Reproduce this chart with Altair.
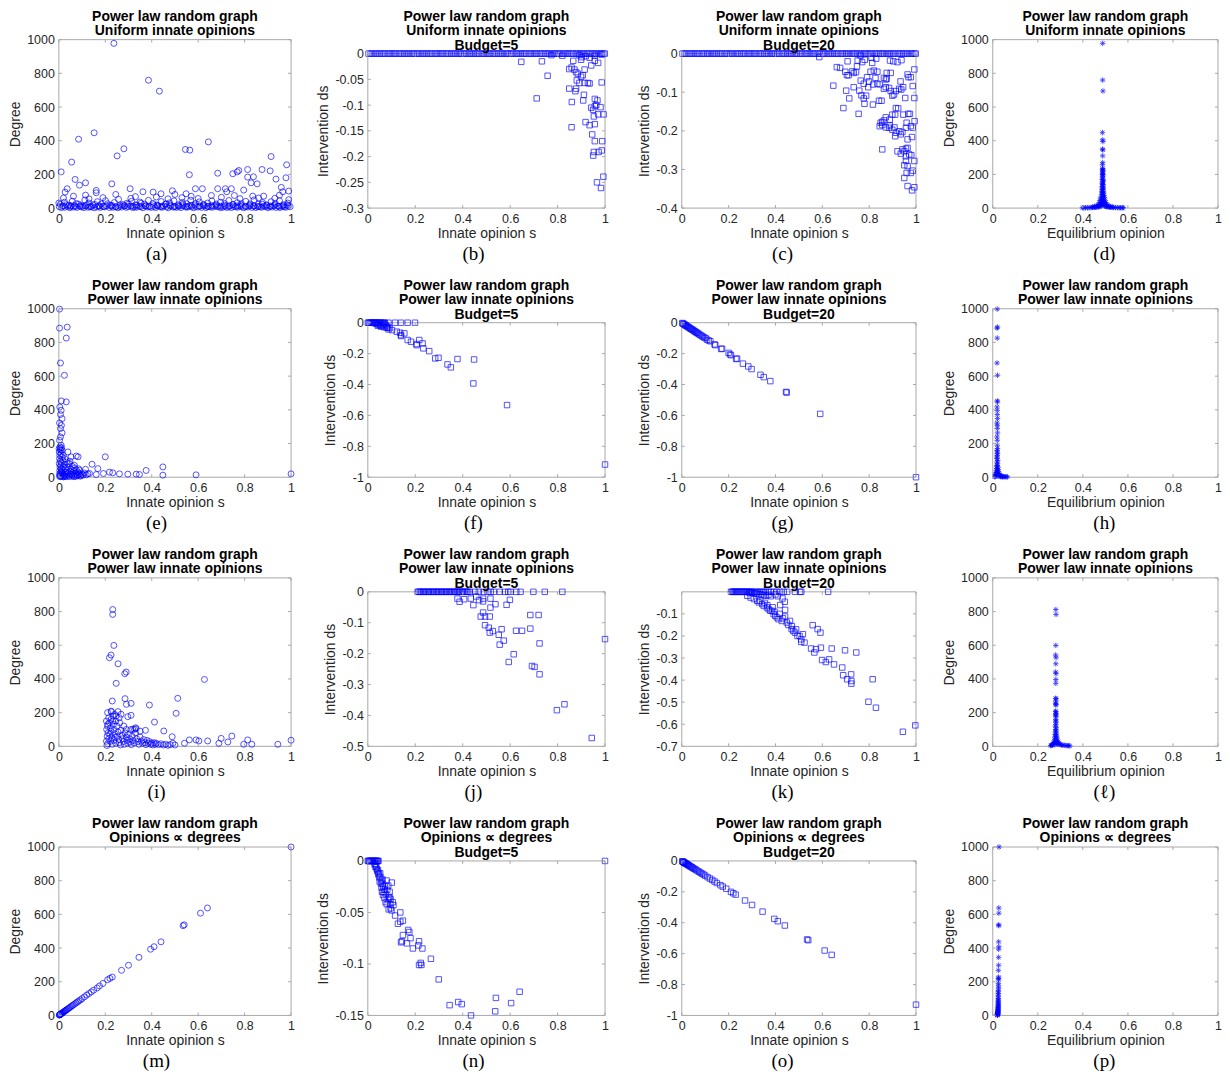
import altair as alt
import pandas as pd

# ---------------- data ----------------
X_TICKS = [0, 0.2, 0.4, 0.6, 0.8, 1]
DEG_TICKS = [0, 200, 400, 600, 800, 1000]

# (a) uniform innate opinions: innate opinion vs degree
A_OUT = [(0.237,978),(0.386,759),(0.433,694),(0.152,447),(0.085,409),(0.644,393),(0.28,352),(0.545,348),
         (0.564,344),(0.251,310),(0.914,306),(0.055,273),(0.981,257),(0.01,215),(0.684,207),(0.91,221),
         (0.875,229),(0.813,229),(0.768,215),(0.775,223),(0.749,204),(0.562,198),(0.07,170),(0.115,150),
         (0.089,136),(0.228,144),(0.307,115),(0.813,184),(0.838,186),(0.828,150),(0.854,144),(0.935,172),
         (0.978,180),(0.036,115),(0.027,95),(0.588,115),(0.618,115),(0.717,115),(0.743,115),(0.489,103),
         (0.362,97),(0.406,95),(0.161,105),(0.161,91),(0.684,115),(0.723,97),(0.796,107),(0.958,123),
         (0.964,97),(0.99,101),(0.657,75),(0.835,71),(0.756,75),(0.063,71),(0.115,77),(0.245,81),(0.44,85),
         (0.5,81),(0.548,85),(0.882,71),(0.95,77),(0.02,60),(0.13,55),(0.19,62),(0.31,58),(0.42,66),
         (0.47,55),(0.53,62),(0.6,57),(0.7,64),(0.78,56),(0.86,60),(0.93,58),(0.99,50),(0.33,68),(0.57,70),
         (0.0,30)]
A_BAND_S = [0.002,0.011,0.019,0.026,0.038,0.047,0.052,0.063,0.071,0.078,0.09,0.097,0.108,0.114,0.126,0.133,
            0.141,0.152,0.163,0.171,0.178,0.19,0.197,0.206,0.218,0.226,0.233,0.245,0.254,0.262,0.27,0.283,
            0.291,0.298,0.31,0.318,0.327,0.335,0.346,0.353,0.362,0.374,0.381,0.39,0.398,0.41,0.417,0.426,
            0.437,0.445,0.452,0.464,0.471,0.48,0.491,0.499,0.507,0.518,0.526,0.534,0.545,0.553,0.561,0.572,
            0.58,0.589,0.598,0.607,0.615,0.626,0.634,0.642,0.653,0.661,0.67,0.681,0.689,0.697,0.708,0.716,
            0.724,0.735,0.743,0.752,0.761,0.77,0.779,0.787,0.796,0.805,0.814,0.822,0.831,0.84,0.848,0.857,
            0.866,0.874,0.883,0.892,0.9,0.909,0.918,0.926,0.935,0.944,0.952,0.961,0.97,0.978,0.987,0.996]
A_BAND_DEG = [8,3,12,5,10,2,14,6,9,4,11,7,3,13,5,8,10,2,6,12,4,9,7,14,3,11,5,8,2,10,6,13,4,9,12,3,7,5,11,8,
              2,14,6,10,4,9,3,12,7,5,13,8,2,11,6,9,4,10,3,14,7,5,12,8,2,9,6,11,4,13,3,10,7,5,12,8,9,2,6,11,
              4,14,3,10,7,5,12,8,2,9,6,13,4,11,3,10,7,5,12,8,2,9,6,14,4,11,3,10,7,5,12,8]
A_BAND2_S = [0.006,0.024,0.043,0.058,0.075,0.094,0.112,0.129,0.147,0.166,0.183,0.201,0.222,0.239,0.257,0.276,
             0.294,0.313,0.331,0.35,0.368,0.386,0.405,0.423,0.441,0.459,0.477,0.496,0.514,0.532,0.55,0.568,
             0.586,0.605,0.623,0.641,0.659,0.677,0.696,0.714,0.732,0.75,0.768,0.786,0.805,0.823,0.841,0.859,
             0.877,0.895,0.914,0.932,0.95,0.968,0.986]
A_BAND2_DEG = [22,35,18,41,27,16,48,30,20,38,25,44,17,33,52,21,29,40,19,36,24,46,28,18,39,23,31,43,20,34,26,
               47,19,37,22,30,42,17,35,27,45,21,32,18,40,25,49,23,33,19,38,28,44,20,30]
A_BAND3_S = [0.015,0.033,0.05,0.068,0.085,0.103,0.12,0.138,0.156,0.174,0.192,0.21,0.228,0.246,0.264,0.282,
             0.3,0.318,0.336,0.354,0.372,0.39,0.408,0.426,0.444,0.462,0.48,0.498,0.516,0.534,0.552,0.57,
             0.588,0.606,0.624,0.642,0.66,0.678,0.696,0.714,0.732,0.75,0.768,0.786,0.804,0.822,0.84,0.858,
             0.876,0.894,0.912,0.93,0.948,0.966,0.984]
A_BAND3_DEG = [12,20,9,15,24,11,18,7,21,14,10,26,16,8,19,13,23,10,17,28,12,9,20,15,11,25,18,8,14,22,10,16,
               27,12,19,9,15,24,11,17,8,21,13,26,10,18,14,9,23,16,12,20,11,15,19]

# (b), (c) nodes left untouched (ds = 0) for uniform innate opinions
UNIFORM_ZERO_S = [0.003,0.012,0.02,0.031,0.039,0.048,0.057,0.066,0.074,0.085,0.093,0.102,0.111,0.119,0.13,
                  0.138,0.147,0.156,0.165,0.173,0.184,0.192,0.201,0.21,0.218,0.229,0.237,0.246,0.255,0.264,
                  0.272,0.283,0.291,0.3,0.309,0.317,0.328,0.336,0.345,0.354,0.363,0.371,0.382,0.39,0.399,
                  0.408,0.416,0.427,0.435,0.444,0.453,0.462,0.47,0.481,0.489,0.498,0.507,0.515,0.526,0.534,
                  0.543,0.552,0.561,0.569,0.58,0.588,0.597,0.606,0.614,0.625,0.633,0.642,0.651,0.66,0.668,
                  0.679,0.687,0.696,0.705,0.713,0.724,0.732,0.741,0.75,0.759,0.767,0.778,0.786,0.795,0.804,
                  0.812,0.823,0.831,0.84,0.849,0.858,0.866,0.877,0.885,0.894,0.903,0.911,0.922,0.93,0.939,
                  0.948,0.957,0.965,0.976,0.984,0.993,0.999]
B_PTS = [(0.647,-0.016),(0.712,-0.087),(0.734,-0.015),(0.758,-0.043),(0.774,-0.003),(0.849,-0.030),
         (0.859,-0.027),(0.871,-0.031),(0.878,-0.036),(0.866,-0.014),(0.892,-0.003),(0.902,-0.007),
         (0.919,-0.005),(0.957,-0.004),(0.971,-0.018),(0.942,-0.023),(0.957,-0.014),(0.986,-0.002),
         (0.885,-0.039),(0.899,-0.045),(0.906,-0.042),(0.914,-0.031),(0.881,-0.052),(0.892,-0.057),
         (0.914,-0.057),(0.928,-0.057),(0.935,-0.058),(0.986,-0.056),(0.849,-0.068),(0.878,-0.068),
         (0.875,-0.073),(0.911,-0.080),(0.860,-0.094),(0.908,-0.091),(0.957,-0.088),(0.968,-0.091),
         (0.963,-0.100),(0.957,-0.102),(0.981,-0.104),(0.942,-0.105),(0.950,-0.109),(0.953,-0.122),
         (0.971,-0.118),(0.994,-0.118),(0.918,-0.133),(0.935,-0.139),(0.957,-0.137),(0.859,-0.143),
         (0.946,-0.157),(0.957,-0.170),(0.988,-0.170),(0.953,-0.191),(0.973,-0.191),(0.986,-0.188),
         (0.950,-0.198),(0.966,-0.250),(0.983,-0.261),(0.993,-0.239),(0.899,-0.012),(0.935,-0.008),
         (0.82,-0.004)]
C_PTS = [(0.587,-0.009),(0.647,-0.083),(0.662,-0.035),(0.676,-0.037),(0.698,-0.047),(0.708,-0.020),
         (0.702,-0.096),(0.705,-0.056),(0.690,-0.141),(0.712,-0.056),(0.727,-0.046),(0.734,-0.050),
         (0.744,-0.048),(0.715,-0.116),(0.734,-0.087),(0.748,-0.033),(0.751,-0.018),(0.758,-0.096),
         (0.755,-0.156),(0.767,-0.108),(0.764,-0.070),(0.777,-0.078),(0.780,-0.130),(0.777,-0.116),
         (0.787,-0.109),(0.781,-0.016),(0.763,-0.005),(0.770,-0.022),(0.791,-0.061),(0.799,-0.072),
         (0.796,-0.087),(0.806,-0.047),(0.813,-0.024),(0.820,-0.044),(0.817,-0.080),(0.816,-0.132),
         (0.827,-0.063),(0.835,-0.047),(0.835,-0.078),(0.842,-0.122),(0.845,-0.080),(0.853,-0.122),
         (0.856,-0.248),(0.863,-0.091),(0.863,-0.063),(0.871,-0.067),(0.871,-0.087),(0.875,-0.065),
         (0.875,-0.050),(0.892,-0.050),(0.885,-0.089),(0.892,-0.097),(0.899,-0.109),(0.906,-0.106),
         (0.914,-0.097),(0.928,-0.091),(0.937,-0.093),(0.945,-0.087),(0.934,-0.072),(0.954,-0.115),
         (0.964,-0.054),(0.978,-0.061),(0.968,-0.061),(0.993,-0.041),(0.986,-0.084),(0.993,-0.115),
         (0.974,-0.156),(0.967,-0.156),(0.946,-0.158),(0.924,-0.142),(0.914,-0.141),(0.911,-0.158),
         (0.899,-0.158),(0.888,-0.171),(0.871,-0.165),(0.863,-0.173),(0.856,-0.177),(0.849,-0.179),
         (0.845,-0.188),(0.856,-0.185),(0.871,-0.191),(0.885,-0.192),(0.888,-0.186),(0.899,-0.197),
         (0.908,-0.191),(0.914,-0.205),(0.911,-0.214),(0.928,-0.201),(0.935,-0.209),(0.942,-0.203),
         (0.957,-0.192),(0.960,-0.179),(0.978,-0.188),(0.986,-0.192),(0.994,-0.175),(0.983,-0.216),
         (0.964,-0.222),(0.921,-0.253),(0.935,-0.259),(0.942,-0.248),(0.950,-0.253),(0.957,-0.246),
         (0.964,-0.244),(0.971,-0.261),(0.980,-0.263),(0.957,-0.266),(0.950,-0.289),(0.957,-0.278),
         (0.964,-0.291),(0.993,-0.278),(0.986,-0.303),(0.978,-0.309),(0.960,-0.309),(0.950,-0.322),
         (0.964,-0.343),(0.983,-0.354),(0.993,-0.346),(0.81,-0.011),(0.83,-0.013),(0.889,-0.018),
         (0.903,-0.02),(0.921,-0.022),(0.938,-0.017)]
D_PTS = [(0.488,978),(0.488,760),(0.489,695),(0.487,448),(0.488,405),(0.489,395),(0.487,350),(0.489,345),
         (0.488,310),(0.488,270),(0.487,257),(0.488,235),(0.489,225),(0.487,215),(0.488,205),(0.489,198),
         (0.487,185),(0.488,172),(0.49,160),(0.487,150),(0.489,140),(0.486,130),(0.49,120),(0.487,110),
         (0.489,100),(0.486,92),(0.491,85),(0.487,78),(0.49,70),(0.485,64),(0.492,58),(0.486,52),(0.49,47),
         (0.484,42),(0.493,38),(0.485,34),(0.491,30),(0.482,27),(0.495,24),(0.484,21),(0.493,19),
         (0.479,17),(0.497,15),(0.481,13),(0.5,12),(0.476,11),(0.503,10),(0.472,9),(0.507,8),(0.468,7),
         (0.512,7),(0.462,6),(0.517,6),(0.456,5),(0.523,5),(0.45,4),(0.53,4),(0.443,4),(0.537,4),
         (0.436,3),(0.545,3),(0.428,3),(0.553,3),(0.42,2),(0.561,2),(0.412,2),(0.568,2),(0.404,2),
         (0.575,2),(0.398,2),(0.58,2),(0.478,60),(0.496,62),(0.476,45),(0.499,44),(0.474,32),(0.501,33),
         (0.47,22),(0.505,23),(0.466,16),(0.51,16),(0.46,12),(0.515,12),(0.452,9),(0.522,9),(0.445,7),
         (0.53,7),(0.484,100),(0.492,95),(0.483,80),(0.493,75),(0.485,120),(0.491,115),(0.486,145),
         (0.49,138),(0.486,170),(0.49,165),(0.487,200),(0.489,190),(0.487,230),(0.489,220)]

# (e)-(h) power-law innate opinions
E_PTS = [(0.003,998),(0.003,885),(0.036,891),(0.032,826),(0.007,678),(0.024,605),(0.011,453),(0.032,447),
         (0.004,417),(0.01,397),(0.007,372),(0.014,348),(0.003,322),(0.011,308),(0.007,289),(0.014,263),
         (0.007,239),(0.003,219),(0.01,190),(0.006,170),(0.014,160),(0.2,121),(0.143,77),(0.075,126),
         (0.083,121),(0.039,150),(0.053,121),(0.168,51),(0.448,61),(0.376,40),(0.448,12),(0.591,14),
         (1.0,20),(0.333,18),(0.347,16),(0.297,18),(0.261,20),(0.232,26),(0.218,30),(0.192,22),(0.161,16),
         (0.132,22),(0.115,47),(0.089,41),(0.046,81),(0.067,71),
         (0.002,150),(0.004,130),(0.003,110),(0.006,95),(0.002,80),(0.008,70),(0.005,60),(0.01,50),
         (0.004,40),(0.012,35),(0.007,28),(0.015,22),(0.003,18),(0.018,15),(0.009,12),(0.022,10),
         (0.006,8),(0.025,7),(0.013,25),(0.016,45),(0.02,60),(0.011,85),(0.014,120),(0.009,140),
         (0.017,100),(0.024,75),(0.028,50),(0.03,30),(0.032,18),(0.035,40),(0.038,60),(0.04,25),
         (0.043,12),(0.046,35),(0.05,20),(0.053,48),(0.056,15),(0.06,28),(0.063,10),(0.066,40),(0.07,18),
         (0.074,25),(0.078,12),(0.082,30),(0.086,15),(0.09,22),(0.095,10),(0.1,18),(0.105,12),(0.11,25),
         (0.118,14),(0.125,20),(0.001,170),(0.005,180),(0.008,160),(0.012,175),(0.019,130),(0.026,110),
         (0.033,90),(0.041,80),(0.048,95),(0.058,65),(0.068,55),(0.075,45),(0.085,50),(0.003,5),
         (0.008,3),(0.015,4),(0.02,2),(0.027,3),(0.035,5),(0.045,4),(0.055,6),(0.065,3),(0.072,5),
         (0.08,8),(0.092,6)]
F_PTS = [(0.0,0),(0.004,0),(0.008,0),(0.012,0),(0.016,0),(0.02,0),(0.024,0),(0.028,0),(0.032,0),(0.036,0),
         (0.04,0),(0.045,0),(0.05,0),(0.055,0),(0.06,0),(0.066,0),(0.072,0),(0.087,0),(0.115,0),(0.14,0),
         (0.168,0),(0.199,0),(0.03,-0.004),(0.038,-0.008),(0.045,-0.012),(0.052,-0.016),(0.06,-0.02),
         (0.065,-0.01),(0.07,-0.004),(0.075,-0.015),(0.08,-0.022),(0.085,-0.03),(0.092,-0.035),
         (0.042,-0.019),(0.056,-0.026),(0.07,-0.03),(0.08,-0.032),(0.087,-0.043),(0.102,-0.048),
         (0.122,-0.058),(0.14,-0.08),(0.136,-0.065),(0.154,-0.069),(0.168,-0.112),(0.182,-0.123),
         (0.206,-0.145),(0.217,-0.112),(0.231,-0.134),(0.234,-0.166),(0.259,-0.184),(0.284,-0.231),
         (0.298,-0.227),(0.336,-0.27),(0.35,-0.289),(0.378,-0.235),(0.448,-0.238),(0.445,-0.393),
         (0.587,-0.533),(1.0,-0.918),(0.206,-0.138),(0.14,-0.086)]
G_PTS = [(0.002,-0.002),(0.005,-0.005),(0.008,-0.008),(0.011,-0.011),(0.014,-0.014),(0.017,-0.018),
         (0.02,-0.02),(0.024,-0.024),(0.027,-0.028),(0.031,-0.031),(0.035,-0.035),(0.038,-0.039),
         (0.042,-0.042),(0.046,-0.046),(0.05,-0.05),(0.054,-0.055),(0.058,-0.058),(0.062,-0.063),
         (0.066,-0.066),(0.07,-0.07),(0.075,-0.076),(0.08,-0.08),(0.085,-0.086),(0.09,-0.09),
         (0.096,-0.096),(0.102,-0.1),(0.108,-0.11),(0.115,-0.115),(0.122,-0.12),(0.14,-0.14),
         (0.143,-0.145),(0.168,-0.17),(0.172,-0.168),(0.2,-0.195),(0.206,-0.205),(0.21,-0.21),
         (0.232,-0.235),(0.236,-0.232),(0.261,-0.265),(0.284,-0.283),(0.298,-0.3),(0.336,-0.337),
         (0.35,-0.352),(0.378,-0.378),(0.445,-0.448),(0.448,-0.452),(0.591,-0.59),(1.0,-1.0)]
H_PTS = [(0.02,998),(0.019,885),(0.021,891),(0.02,826),(0.019,678),(0.021,605),(0.02,453),(0.021,447),
         (0.019,417),(0.02,397),(0.02,372),(0.021,348),(0.019,322),(0.02,308),(0.02,289),(0.021,263),
         (0.019,239),(0.02,219),(0.02,190),(0.021,170),(0.019,160),(0.02,150),(0.021,140),(0.019,130),
         (0.02,120),(0.018,110),(0.022,100),(0.019,90),(0.021,80),(0.018,70),(0.023,60),(0.017,52),
         (0.024,45),(0.016,38),(0.025,32),(0.015,27),(0.027,22),(0.014,18),(0.03,15),(0.013,12),
         (0.033,10),(0.012,8),(0.037,7),(0.011,6),(0.041,5),(0.01,4),(0.046,4),(0.05,3),(0.055,3),
         (0.06,2),(0.065,2),(0.009,3),(0.028,5),(0.035,3),(0.043,2),(0.02,20),(0.022,35),(0.018,28),
         (0.02,50),(0.02,65)]

# (i)-(l) second power-law innate opinion sample (min 0.2)
I_PTS = [(0.232,812),(0.232,783),(0.237,599),(0.225,542),(0.218,526),(0.255,490),(0.29,441),(0.284,431),
         (0.247,374),(0.627,397),(0.23,269),(0.285,283),(0.311,255),(0.291,249),(0.39,245),(0.512,285),
         (0.505,196),(0.225,209),(0.255,206),(0.268,190),(0.311,184),(0.297,176),(0.412,144),(0.247,180),
         (0.232,150),(0.211,130),(0.452,91),(0.488,57),(0.373,95),(0.333,105),(0.318,101),(0.326,101),
         (0.562,38),(0.591,38),(0.603,32),(0.641,32),(0.699,47),(0.745,61),(0.689,18),(0.728,26),
         (0.813,38),(0.831,12),(0.796,12),(0.943,12),(1.0,36),(0.541,18),(0.491,18),
         (0.205,150),(0.21,120),(0.206,100),(0.212,80),(0.208,60),(0.215,45),(0.205,30),(0.21,15),
         (0.207,5),(0.218,140),(0.222,110),(0.225,90),(0.22,70),(0.228,50),(0.223,30),(0.23,12),
         (0.235,130),(0.238,100),(0.24,75),(0.243,55),(0.236,35),(0.245,18),(0.25,120),(0.255,85),
         (0.252,60),(0.258,40),(0.26,22),(0.265,8),(0.268,95),(0.272,65),(0.275,45),(0.278,28),
         (0.282,12),(0.285,80),(0.29,55),(0.293,35),(0.296,18),(0.3,70),(0.305,45),(0.308,25),(0.312,10),
         (0.316,60),(0.32,35),(0.325,20),(0.33,80),(0.335,45),(0.34,28),(0.345,12),(0.35,55),(0.355,30),
         (0.36,18),(0.365,40),(0.37,22),(0.375,10),(0.38,35),(0.385,18),(0.39,28),(0.395,12),(0.4,20),
         (0.405,8),(0.41,22),(0.415,12),(0.42,18),(0.43,10),(0.44,15),(0.45,8),(0.46,12),(0.47,6),
         (0.48,10),(0.5,8),(0.215,170),(0.225,160),(0.233,180),(0.245,150),(0.262,140),(0.28,120),
         (0.31,100),(0.33,110),(0.21,200),(0.227,205),(0.24,190),(0.26,170),(0.29,100),(0.35,90)]
J_ZERO_S = [0.21,0.214,0.22,0.225,0.231,0.236,0.242,0.247,0.253,0.258,0.264,0.269,0.275,0.28,0.286,0.291,
            0.297,0.302,0.308,0.313,0.319,0.324,0.33,0.335,0.341,0.346,0.352,0.357,0.363,0.368,0.374,
            0.379,0.385,0.39,0.396,0.401,0.407,0.412,0.418,0.423,0.43,0.452,0.468,0.488,0.505,0.518,
            0.532,0.556,0.578,0.592,0.602,0.626,0.644,0.698,0.746,0.82]
J_PTS = [(0.378,-0.022),(0.387,-0.032),(0.406,-0.024),(0.445,-0.043),(0.434,-0.022),(0.457,-0.015),
         (0.469,-0.027),(0.486,-0.031),(0.486,-0.022),(0.476,-0.08),(0.486,-0.067),(0.494,-0.08),
         (0.494,-0.108),(0.517,-0.022),(0.517,-0.051),(0.514,-0.08),(0.51,-0.116),(0.514,-0.132),
         (0.527,-0.127),(0.538,-0.04),(0.552,-0.139),(0.556,-0.171),(0.573,-0.158),(0.564,-0.121),
         (0.585,-0.042),(0.599,-0.026),(0.594,-0.227),(0.615,-0.202),(0.625,-0.126),(0.65,-0.126),
         (0.685,-0.075),(0.685,-0.119),(0.692,-0.24),(0.703,-0.243),(0.72,-0.075),(0.724,-0.167),
         (0.724,-0.267),(0.797,-0.383),(0.829,-0.364),(0.944,-0.473),(1.0,-0.153)]
K_ZERO_S = [0.21,0.214,0.219,0.223,0.228,0.232,0.237,0.241,0.246,0.25,0.255,0.259,0.264,0.268,0.273,0.277,
            0.282,0.286,0.291,0.295,0.3,0.31,0.318,0.325,0.334,0.342,0.35,0.358,0.37,0.38,0.392,0.405,
            0.42,0.435,0.45,0.483,0.505,0.51,0.625]
K_PTS = [(0.3,-0.004),(0.31,-0.006),(0.32,-0.008),(0.33,-0.01),(0.34,-0.012),(0.35,-0.015),(0.29,-0.005),
         (0.36,-0.018),(0.37,-0.014),(0.38,-0.02),(0.4,-0.012),(0.41,-0.02),(0.43,-0.03),(0.44,-0.045),
         (0.42,-0.06),(0.28,-0.018),(0.294,-0.026),(0.308,-0.033),(0.322,-0.041),(0.329,-0.048),
         (0.343,-0.056),(0.35,-0.064),(0.364,-0.071),(0.371,-0.079),(0.378,-0.086),(0.385,-0.086),
         (0.392,-0.101),(0.399,-0.109),(0.406,-0.116),(0.413,-0.124),(0.427,-0.132),(0.441,-0.112),
         (0.441,-0.082),(0.448,-0.139),(0.462,-0.132),(0.469,-0.169),(0.476,-0.177),(0.483,-0.185),
         (0.494,-0.2),(0.503,-0.2),(0.51,-0.215),(0.517,-0.192),(0.524,-0.23),(0.51,-0.227),(0.559,-0.151),
         (0.58,-0.169),(0.592,-0.185),(0.552,-0.257),(0.566,-0.275),(0.573,-0.26),(0.594,-0.253),
         (0.599,-0.309),(0.615,-0.318),(0.629,-0.306),(0.64,-0.257),(0.65,-0.329),(0.685,-0.343),
         (0.689,-0.378),(0.697,-0.265),(0.706,-0.396),(0.723,-0.374),(0.724,-0.404),(0.724,-0.416),
         (0.745,-0.275),(0.797,-0.498),(0.815,-0.396),(0.829,-0.525),(0.944,-0.634),(0.997,-0.605),
         (0.335,-0.04),(0.355,-0.05),(0.365,-0.06),(0.388,-0.07),(0.396,-0.09),(0.418,-0.1),(0.432,-0.12),
         (0.455,-0.15),(0.47,-0.155),(0.488,-0.17)]
L_PTS = [(0.28,812),(0.281,783),(0.28,599),(0.279,542),(0.281,526),(0.28,490),(0.279,441),(0.281,431),
         (0.28,397),(0.28,374),(0.279,285),(0.281,283),(0.28,269),(0.279,255),(0.281,249),(0.28,245),
         (0.28,209),(0.279,206),(0.281,196),(0.28,190),(0.279,184),(0.281,176),(0.28,160),(0.279,150),
         (0.281,144),(0.28,130),(0.278,120),(0.282,110),(0.279,100),(0.281,92),(0.278,85),(0.283,78),
         (0.277,70),(0.284,62),(0.276,55),(0.285,48),(0.275,42),(0.287,36),(0.274,31),(0.289,27),
         (0.272,23),(0.292,20),(0.27,17),(0.295,14),(0.267,12),(0.3,11),(0.265,9),(0.305,8),(0.263,7),
         (0.311,7),(0.26,6),(0.317,6),(0.325,5),(0.331,4),(0.337,4),(0.342,3),(0.257,4),(0.283,18),
         (0.276,10),(0.288,12),(0.28,30),(0.28,60)]

# (m)-(p) opinions proportional to degrees
M_PTS = [(1.0,1000),(0.64,638),(0.61,607),(0.54,538),(0.535,533),(0.44,437),(0.41,408),(0.395,393),
         (0.345,345),(0.3,298),(0.27,268),(0.23,228),(0.22,220),(0.21,212),(0.19,190),(0.175,175),
         (0.165,163),(0.15,150),(0.14,140),(0.13,130),(0.12,121),(0.11,110),(0.1,100),(0.093,92),
         (0.086,86),(0.08,80),(0.074,74),(0.068,68),(0.062,62),(0.057,57),(0.052,52),(0.047,47),
         (0.043,43),(0.039,39),(0.035,35),(0.031,31),(0.028,28),(0.025,25),(0.022,22),(0.019,19),
         (0.016,16),(0.014,14),(0.012,12),(0.01,10),(0.008,8),(0.006,6),(0.005,5),(0.004,4),(0.003,3),
         (0.002,2)]
N_PTS = [(0.0,0),(0.003,0),(0.006,0),(0.009,0),(0.012,0),(0.015,0),(0.018,0),(0.021,0),(0.024,0),(0.027,0),
         (0.03,0),(0.033,0),(0.036,0),(0.039,0),(0.042,0),(0.045,0),(1.0,0),
         (0.029,-0.0026),(0.036,-0.0058),(0.043,-0.009),(0.047,-0.012),(0.053,-0.0155),(0.058,-0.019),
         (0.062,-0.022),(0.065,-0.025),(0.072,-0.028),(0.076,-0.032),(0.079,-0.019),(0.086,-0.024),
         (0.091,-0.035),(0.096,-0.037),(0.101,-0.021),(0.105,-0.040),(0.108,-0.043),(0.096,-0.046),
         (0.115,-0.053),(0.137,-0.05),(0.127,-0.061),(0.137,-0.059),(0.148,-0.058),(0.148,-0.072),
         (0.144,-0.078),(0.14,-0.079),(0.165,-0.08),(0.17,-0.067),(0.175,-0.069),(0.18,-0.075),
         (0.19,-0.085),(0.216,-0.078),(0.213,-0.082),(0.23,-0.085),(0.216,-0.101),(0.223,-0.099),
         (0.226,-0.101),(0.266,-0.095),(0.299,-0.115),(0.345,-0.14),(0.381,-0.137),(0.396,-0.139),
         (0.435,-0.15),(0.54,-0.133),(0.537,-0.146),(0.604,-0.138),(0.64,-0.127),
         (0.03,-0.004),(0.033,-0.006),(0.038,-0.008),(0.04,-0.01),(0.044,-0.013),(0.048,-0.016),
         (0.05,-0.02),(0.055,-0.022),(0.058,-0.026),(0.06,-0.03),(0.064,-0.033),(0.068,-0.03),
         (0.07,-0.036),(0.075,-0.04),(0.08,-0.042),(0.085,-0.038),(0.088,-0.047),(0.092,-0.03),
         (0.095,-0.042),(0.1,-0.048),(0.052,-0.012),(0.062,-0.018),(0.072,-0.024),(0.082,-0.028),
         (0.09,-0.036)]
O_PTS = [(0.002,-0.002),(0.004,-0.004),(0.006,-0.006),(0.008,-0.008),(0.01,-0.01),(0.012,-0.012),
         (0.014,-0.014),(0.016,-0.016),(0.019,-0.018),(0.022,-0.021),(0.025,-0.024),(0.028,-0.027),
         (0.031,-0.03),(0.035,-0.034),(0.039,-0.037),(0.043,-0.041),(0.047,-0.045),(0.052,-0.05),
         (0.057,-0.054),(0.062,-0.059),(0.068,-0.065),(0.074,-0.07),(0.08,-0.076),(0.086,-0.082),
         (0.093,-0.088),(0.1,-0.095),(0.11,-0.105),(0.12,-0.114),(0.13,-0.123),(0.14,-0.133),
         (0.15,-0.143),(0.165,-0.157),(0.175,-0.166),(0.19,-0.18),(0.21,-0.2),(0.22,-0.209),
         (0.23,-0.218),(0.27,-0.256),(0.3,-0.285),(0.345,-0.328),(0.395,-0.375),(0.41,-0.39),
         (0.44,-0.418),(0.535,-0.508),(0.54,-0.513),(0.61,-0.58),(0.64,-0.608),(1.0,-0.93)]
P_PTS = [(0.028,1000),(0.027,638),(0.027,607),(0.026,538),(0.027,533),(0.026,437),(0.027,408),(0.026,393),
         (0.026,345),(0.026,298),(0.025,268),(0.026,228),(0.025,220),(0.026,212),(0.025,190),(0.025,175),
         (0.026,163),(0.025,150),(0.024,140),(0.025,130),(0.024,121),(0.025,110),(0.024,100),(0.025,92),
         (0.024,86),(0.025,80),(0.024,74),(0.025,68),(0.024,62),(0.024,57),(0.025,52),(0.023,47),
         (0.024,43),(0.023,39),(0.024,35),(0.023,31),(0.024,28),(0.023,25),(0.022,22),(0.023,19),
         (0.022,16),(0.023,14),(0.022,12),(0.021,10),(0.022,8),(0.021,6),(0.022,5),(0.021,4),(0.02,3),
         (0.021,2)]

# ---------------- texts ----------------
T1 = "Power law random graph"
UNI = "Uniform innate opinions"
PLI = "Power law innate opinions"
PROP = "Opinions \u221d degrees"
XS = "Innate opinion s"
XE = "Equilibrium opinion"
YD = "Degree"
YI = "Intervention ds"

# ---------------- layout (pixels) ----------------
H = 169                      # height of every panel cell
COL_W = [233, 238, 235, 226]  # widths of the four columns
COL_LEFT = [59, 369, 684, 996]
FRAME_TOP = [0, 14, 14, 0]   # panels with a 3-line title have a shorter frame
CAP_X = [157, 475, 785, 1108]
TITLE_Y = [-23, -9, 6]
PIN = (-51, -30)             # top-left corner of the whole figure, relative to panel (a)
TICK = 3                     # inward tick length
COL_OF = {"a": 0, "b": 1, "c": 2, "d": 3, "e": 0, "f": 1, "g": 2, "h": 3,
          "i": 0, "j": 1, "k": 2, "l": 3, "m": 0, "n": 1, "o": 2, "p": 3}

BLUE = "#0000ff"
GRAY = "#a8a8a8"
ASTERISK = "M-1,0H1M0,-1V1M-0.7,-0.7L0.7,0.7M-0.7,0.7L0.7,-0.7"
LBL = "datum.value < 0 ? '-' + format(-datum.value, '~g') : format(datum.value, '~g')"
SANS = "Liberation Sans"
SERIF = "Liberation Serif"
ONE = pd.DataFrame({"k": [0]})


def pairs_df(*groups):
    rows = []
    for g in groups:
        rows.extend(g)
    return pd.DataFrame(rows, columns=["x", "y"])


def make_panel(key, df, marker, titles, xtitle, ytitle, ydom, yticks, caption):
    col = COL_OF[key]
    w = COL_W[col]
    top = FRAME_TOP[col]
    lo, hi = ydom
    if top:
        hi = hi + (hi - lo) * top / (H - top)   # leave room above the frame for the 3rd title line
    shape = {"o": "circle", "s": "square", "*": ASTERISK}[marker]
    size = {"o": 36, "s": 30, "*": 30}[marker]
    xsc = alt.Scale(domain=[0, 1], nice=False, zero=False)
    ysc = alt.Scale(domain=[lo, hi], nice=False, zero=False)
    xax = alt.Axis(title=xtitle, values=X_TICKS, labelExpr=LBL)
    yax = alt.Axis(title=ytitle, values=yticks, labelExpr=LBL, titleY=(top + H) / 2)
    xt = pd.DataFrame({"x": X_TICKS})
    yt = pd.DataFrame({"y": yticks})

    layers = []
    if key == "a":
        layers.append(alt.Chart(ONE).mark_rule(opacity=0, strokeWidth=0).encode(
            x=alt.value(PIN[0]), x2=alt.value(0), y=alt.value(PIN[1]), y2=alt.value(0)))
    layers.append(alt.Chart(ONE).mark_rect(fillOpacity=0, stroke=GRAY, strokeWidth=1).encode(
        x=alt.value(0), x2=alt.value(w), y=alt.value(top), y2=alt.value(H)))
    layers.append(alt.Chart(df).mark_point(shape=shape, filled=False, size=size, color=BLUE,
                                           strokeWidth=0.9, opacity=0.75).encode(
        x=alt.X("x:Q", scale=xsc, axis=xax), y=alt.Y("y:Q", scale=ysc, axis=yax)))
    # inward tick marks on all four sides, at the labelled values
    for y0, y1 in ((H, H - TICK), (top, top + TICK)):
        layers.append(alt.Chart(xt).mark_rule(color=GRAY, strokeWidth=1).encode(
            x=alt.X("x:Q", scale=xsc, axis=xax), y=alt.value(y0), y2=alt.value(y1)))
    for x0, x1 in ((0, TICK), (w - TICK, w)):
        layers.append(alt.Chart(yt).mark_rule(color=GRAY, strokeWidth=1).encode(
            y=alt.Y("y:Q", scale=ysc, axis=yax), x=alt.value(x0), x2=alt.value(x1)))
    for k, line in enumerate(titles):
        layers.append(alt.Chart(ONE).mark_text(font=SANS, fontSize=14, fontWeight="bold", color="black",
                                               align="center", baseline="middle").encode(
            x=alt.value(w / 2), y=alt.value(TITLE_Y[k]), text=alt.value(line)))
    layers.append(alt.Chart(ONE).mark_text(font=SERIF, fontSize=19, color="black", baseline="middle",
                                           align="center").encode(
        x=alt.value(CAP_X[col] - COL_LEFT[col]), y=alt.value(H + 46), text=alt.value(caption)))
    return alt.layer(*layers).properties(width=w, height=H)


zero_b = [(s, 0.0) for s in UNIFORM_ZERO_S]
zero_j = [(s, 0.0) for s in J_ZERO_S]
zero_k = [(s, 0.0) for s in K_ZERO_S]

panels = [
    make_panel("a", pairs_df(A_OUT, list(zip(A_BAND_S, A_BAND_DEG)), list(zip(A_BAND2_S, A_BAND2_DEG)),
                             list(zip(A_BAND3_S, A_BAND3_DEG))),
               "o", [T1, UNI], XS, YD, [0, 1000], DEG_TICKS, "(a)"),
    make_panel("b", pairs_df(zero_b, B_PTS), "s", [T1, UNI, "Budget=5"], XS, YI, [-0.3, 0],
               [0, -0.05, -0.1, -0.15, -0.2, -0.25, -0.3], "(b)"),
    make_panel("c", pairs_df(zero_b, C_PTS), "s", [T1, UNI, "Budget=20"], XS, YI, [-0.4, 0],
               [0, -0.1, -0.2, -0.3, -0.4], "(c)"),
    make_panel("d", pairs_df(D_PTS), "*", [T1, UNI], XE, YD, [0, 1000], DEG_TICKS, "(d)"),
    make_panel("e", pairs_df(E_PTS), "o", [T1, PLI], XS, YD, [0, 1000], DEG_TICKS, "(e)"),
    make_panel("f", pairs_df(F_PTS), "s", [T1, PLI, "Budget=5"], XS, YI, [-1, 0],
               [0, -0.2, -0.4, -0.6, -0.8, -1], "(f)"),
    make_panel("g", pairs_df(G_PTS), "s", [T1, PLI, "Budget=20"], XS, YI, [-1, 0],
               [0, -0.2, -0.4, -0.6, -0.8, -1], "(g)"),
    make_panel("h", pairs_df(H_PTS), "*", [T1, PLI], XE, YD, [0, 1000], DEG_TICKS, "(h)"),
    make_panel("i", pairs_df(I_PTS), "o", [T1, PLI], XS, YD, [0, 1000], DEG_TICKS, "(i)"),
    make_panel("j", pairs_df(zero_j, J_PTS), "s", [T1, PLI, "Budget=5"], XS, YI, [-0.5, 0],
               [0, -0.1, -0.2, -0.3, -0.4, -0.5], "(j)"),
    make_panel("k", pairs_df(zero_k, K_PTS), "s", [T1, PLI, "Budget=20"], XS, YI, [-0.7, 0],
               [-0.1, -0.2, -0.3, -0.4, -0.5, -0.6, -0.7], "(k)"),
    make_panel("l", pairs_df(L_PTS), "*", [T1, PLI], XE, YD, [0, 1000], DEG_TICKS, "(\u2113)"),
    make_panel("m", pairs_df(M_PTS), "o", [T1, PROP], XS, YD, [0, 1000], DEG_TICKS, "(m)"),
    make_panel("n", pairs_df(N_PTS), "s", [T1, PROP, "Budget=5"], XS, YI, [-0.15, 0],
               [0, -0.05, -0.1, -0.15], "(n)"),
    make_panel("o", pairs_df(O_PTS), "s", [T1, PROP, "Budget=20"], XS, YI, [-1, 0],
               [0, -0.2, -0.4, -0.6, -0.8, -1], "(o)"),
    make_panel("p", pairs_df(P_PTS), "*", [T1, PROP], XE, YD, [0, 1000], DEG_TICKS, "(p)"),
]

chart = alt.concat(
    *panels, columns=4, spacing={"row": 101, "column": 77}, bounds="flush", align="none"
).properties(
    padding=0, background="white"
).configure_axis(
    labelFont=SANS, labelFontSize=12.5, labelColor="#262626",
    titleFont=SANS, titleFontSize=14, titleFontWeight="normal", titleColor="#262626",
    ticks=False, domain=False, grid=False, labelFlush=False, labelOverlap=False,
).configure_axisX(
    labelPadding=4, titlePadding=2
).configure_axisY(
    labelPadding=4.5, titlePadding=4
).configure_view(
    strokeWidth=0
)

chart.save("out.html", embed_options={"renderer": "svg", "actions": False})
